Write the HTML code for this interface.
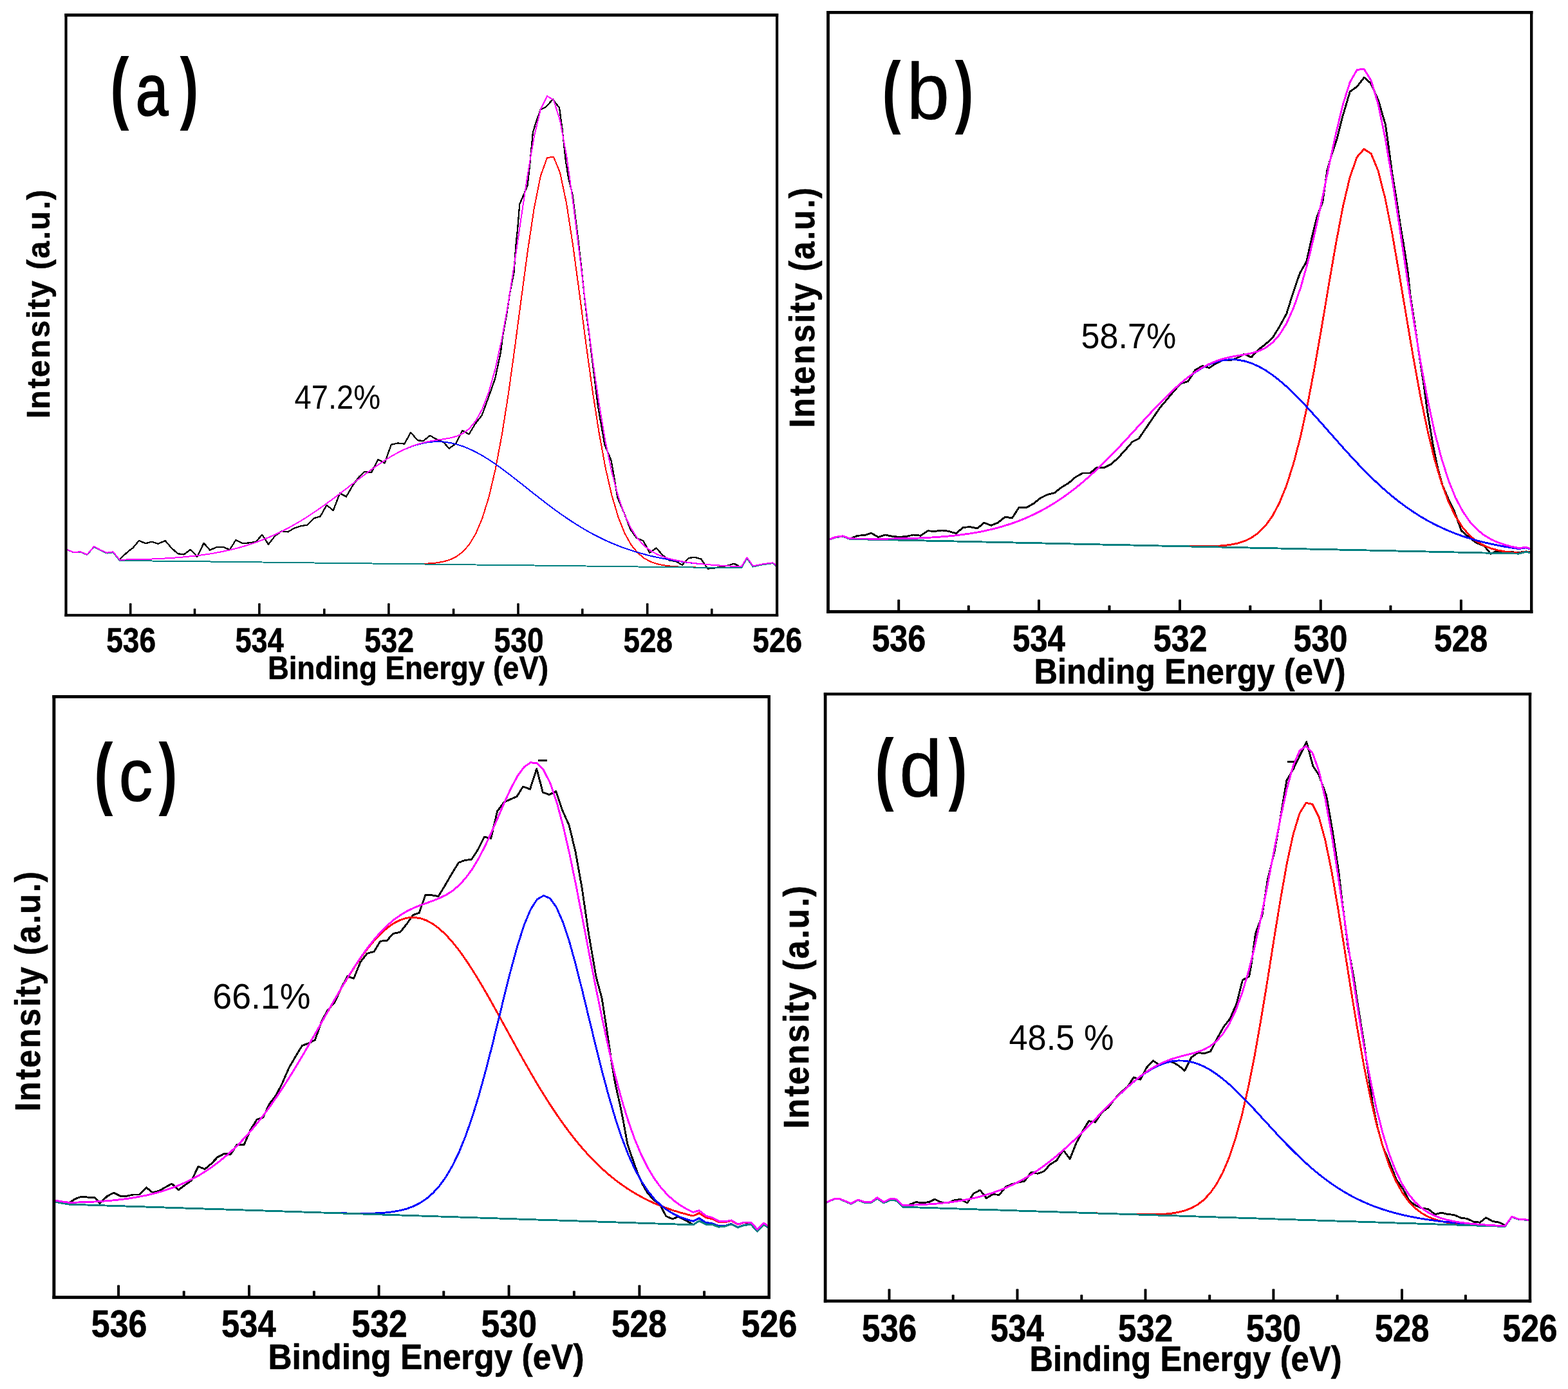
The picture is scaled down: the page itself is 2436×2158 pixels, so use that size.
<!DOCTYPE html>
<html lang="en">
<head>
<meta charset="utf-8">
<title>XPS O 1s spectra</title>
<style>
html,body{margin:0;padding:0;background:#fff;}
body{width:2436px;height:2158px;overflow:hidden;}
svg{display:block;}
svg text{font-family:'Liberation Sans', sans-serif;fill:#000;}
</style>
</head>
<body>
<svg xmlns="http://www.w3.org/2000/svg" width="2436" height="2158" viewBox="0 0 2436 2158">
<rect x="0" y="0" width="2436" height="2158" fill="#fff"/>
<clipPath id="clip_a"><rect x="104.6" y="25.8" width="1100.4" height="928.0"/></clipPath>
<g clip-path="url(#clip_a)">
<path d="M185.7,869.0 L199.8,856.1 L206.3,851.4 L215.9,839.9 L226.2,844.3 L235.6,841.7 L245.9,844.9 L256.5,839.9 L265.9,850.8 L276.1,860.2 L285.8,861.4 L296.1,853.7 L306.4,864.9 L316.6,843.7 L326.0,854.6 L337.2,849.9 L347.5,849.9 L356.8,854.3 L366.5,838.7 L376.5,844.3 L387.1,843.4 L397.1,842.0 L407.3,830.8 L417.0,845.8 L427.3,832.6 L437.6,825.2 L447.3,826.4 L456.7,820.8 L466.9,817.3 L477.2,815.6 L487.5,805.3 L497.7,802.3 L507.4,784.7 L517.7,793.0 L528.0,766.5 L538.0,771.5 L548.2,753.9 L557.9,740.7 L566.7,732.8 L577.0,734.0 L587.3,713.7 L597.6,719.6 L607.8,690.8 L618.1,688.5 L628.4,689.6 L638.1,671.7 L648.9,684.3 L657.7,684.9 L668.0,676.7 L678.3,682.6 L688.6,686.7 L697.8,696.7 L708.1,689.3 L718.4,668.8 L728.6,674.7 L738.3,658.5 L748.6,645.3 L758.9,617.4 L769.2,588.1 L778.0,547.0 L780.9,522.7 L786.8,490.4 L792.6,452.3 L798.5,422.9 L801.4,381.8 L804.4,352.4 L807.3,317.2 L816.1,296.7 L819.6,287.9 L823.5,252.6 L827.9,205.7 L832.3,191.0 L839.6,170.5 L848.4,166.0 L858.7,154.3 L869.0,167.5 L873.4,199.8 L879.2,252.6 L883.6,279.1 L889.5,302.5 L893.9,337.8 L898.3,373.0 L902.7,411.2 L907.1,452.3 L911.5,490.4 L915.9,522.7 L918.9,549.9 L929.1,632.1 L939.4,690.8 L949.7,715.8 L959.4,773.0 L969.4,796.5 L979.6,822.9 L989.3,836.1 L999.6,840.5 L1009.3,858.7 L1019.5,851.4 L1029.5,862.5 L1039.8,870.5 L1050.1,872.2 L1059.8,877.8 L1070.0,866.9 L1079.4,865.8 L1089.1,868.4 L1099.4,883.7 L1109.7,882.5 L1119.9,880.7 L1130.2,878.7 L1140.5,875.7 L1150.8,881.0" stroke="#000" stroke-width="2.3" fill="none" stroke-linejoin="round" stroke-linecap="butt" shape-rendering="crispEdges"/>
<path d="M103.5,854.0 L114.7,858.4 L125.0,857.6 L135.2,862.1 L146.1,849.6 L155.8,855.0 L166.0,859.6 L175.7,858.3 L185.7,870.9 L195.8,871.0 L205.8,871.1 L215.9,871.2 L226.0,871.3 L236.0,871.5 L246.1,871.6 L256.2,871.7 L266.2,871.8 L276.3,871.9 L286.3,872.1 L296.4,872.2 L306.5,872.3 L316.5,872.4 L326.6,872.5 L336.7,872.7 L346.7,872.8 L356.8,872.9 L366.9,873.0 L376.9,873.1 L387.0,873.3 L397.1,873.4 L407.1,873.5 L417.2,873.6 L427.2,873.7 L437.3,873.9 L447.4,874.0 L457.4,874.1 L467.5,874.2 L477.6,874.3 L487.6,874.5 L497.7,874.6 L507.8,874.7 L517.8,874.8 L527.9,874.9 L538.0,875.1 L548.0,875.2 L558.1,875.3 L568.2,875.4 L578.2,875.5 L588.3,875.7 L598.3,875.8 L608.4,875.9 L618.5,876.0 L628.5,876.0 L638.6,876.1 L648.7,876.0 L658.7,875.8 L668.8,875.3 L678.9,874.3 L688.9,872.6 L699.0,869.6 L709.1,864.8 L719.1,857.2 L729.2,845.7 L739.3,828.8 L749.3,805.1 L759.4,772.7 L769.4,730.3 L779.5,677.1 L789.6,613.6 L799.6,541.6 L809.7,465.1 L819.8,390.0 L829.8,323.5 L839.9,273.1 L850.0,245.2 L860.0,243.6 L870.1,268.5 L880.2,316.6 L890.2,381.8 L900.3,456.5 L910.3,533.4 L920.4,606.4 L930.5,671.4 L940.5,726.2 L950.6,770.2 L960.7,804.0 L970.7,829.0 L980.8,846.9 L990.9,859.2 L1000.9,867.4 L1011.0,872.8 L1021.1,876.2 L1031.1,878.3 L1041.2,879.6 L1051.3,880.4 L1061.3,880.9 L1071.4,881.2 L1081.4,881.5 L1091.5,881.6 L1101.6,881.8 L1111.6,881.9 L1121.7,882.0 L1131.8,882.2 L1141.8,882.3 L1151.9,882.4 L1160.5,867.7 L1169.8,880.6 L1183.1,877.7 L1200.7,875.1 L1208.0,881.4" stroke="#ff0000" stroke-width="2.0" fill="none" stroke-linejoin="round" stroke-linecap="butt" shape-rendering="crispEdges"/>
<path d="M103.5,853.7 L114.7,858.1 L125.0,857.2 L135.2,861.6 L146.1,849.0 L155.8,854.3 L166.0,858.7 L175.7,857.2 L185.7,869.6 L195.8,869.5 L205.8,869.3 L215.9,869.1 L226.0,868.8 L236.0,868.5 L246.1,868.0 L256.2,867.5 L266.2,866.9 L276.3,866.2 L286.3,865.3 L296.4,864.3 L306.5,863.2 L316.5,861.9 L326.6,860.4 L336.7,858.6 L346.7,856.7 L356.8,854.5 L366.9,852.0 L376.9,849.3 L387.0,846.2 L397.1,842.8 L407.1,839.1 L417.2,835.0 L427.2,830.6 L437.3,825.8 L447.4,820.6 L457.4,815.0 L467.5,809.1 L477.6,802.8 L487.6,796.2 L497.7,789.2 L507.8,782.0 L517.8,774.6 L527.9,767.0 L538.0,759.2 L548.0,751.5 L558.1,743.7 L568.2,736.1 L578.2,728.7 L588.3,721.6 L598.3,714.9 L608.4,708.7 L618.5,703.1 L628.5,698.2 L638.6,694.0 L648.7,690.7 L658.7,688.2 L668.8,686.7 L678.9,686.1 L688.9,686.5 L699.0,687.9 L709.1,690.2 L719.1,693.4 L729.2,697.5 L739.3,702.4 L749.3,707.9 L759.4,714.1 L769.4,720.9 L779.5,728.1 L789.6,735.6 L799.6,743.4 L809.7,751.3 L819.8,759.3 L829.8,767.3 L839.9,775.2 L850.0,783.0 L860.0,790.5 L870.1,797.8 L880.2,804.8 L890.2,811.5 L900.3,817.8 L910.3,823.8 L920.4,829.4 L930.5,834.6 L940.5,839.4 L950.6,843.9 L960.7,848.0 L970.7,851.8 L980.8,855.2 L990.9,858.3 L1000.9,861.1 L1011.0,863.7 L1021.1,866.0 L1031.1,868.0 L1041.2,869.9 L1051.3,871.5 L1061.3,873.0 L1071.4,874.3 L1081.4,875.4 L1091.5,876.4 L1101.6,877.3 L1111.6,878.1 L1121.7,878.8 L1131.8,879.4 L1141.8,880.0 L1151.9,880.5 L1160.5,866.0 L1169.8,879.3 L1183.1,876.6 L1200.7,874.3 L1208.0,880.7" stroke="#0000ff" stroke-width="2.0" fill="none" stroke-linejoin="round" stroke-linecap="butt" shape-rendering="crispEdges"/>
<path d="M103.5,854.0 L114.7,858.4 L125.0,857.6 L135.2,862.1 L146.1,849.6 L155.8,855.0 L166.0,859.6 L175.7,858.3 L185.7,870.9 L195.8,871.0 L205.8,871.1 L215.9,871.2 L226.0,871.3 L236.0,871.5 L246.1,871.6 L256.2,871.7 L266.2,871.8 L276.3,871.9 L286.3,872.1 L296.4,872.2 L306.5,872.3 L316.5,872.4 L326.6,872.5 L336.7,872.7 L346.7,872.8 L356.8,872.9 L366.9,873.0 L376.9,873.1 L387.0,873.3 L397.1,873.4 L407.1,873.5 L417.2,873.6 L427.2,873.7 L437.3,873.9 L447.4,874.0 L457.4,874.1 L467.5,874.2 L477.6,874.3 L487.6,874.5 L497.7,874.6 L507.8,874.7 L517.8,874.8 L527.9,874.9 L538.0,875.1 L548.0,875.2 L558.1,875.3 L568.2,875.4 L578.2,875.5 L588.3,875.7 L598.3,875.8 L608.4,875.9 L618.5,876.0 L628.5,876.1 L638.6,876.3 L648.7,876.4 L658.7,876.5 L668.8,876.6 L678.9,876.7 L688.9,876.9 L699.0,877.0 L709.1,877.1 L719.1,877.2 L729.2,877.3 L739.3,877.5 L749.3,877.6 L759.4,877.7 L769.4,877.8 L779.5,877.9 L789.6,878.1 L799.6,878.2 L809.7,878.3 L819.8,878.4 L829.8,878.5 L839.9,878.7 L850.0,878.8 L860.0,878.9 L870.1,879.0 L880.2,879.2 L890.2,879.3 L900.3,879.4 L910.3,879.5 L920.4,879.6 L930.5,879.8 L940.5,879.9 L950.6,880.0 L960.7,880.1 L970.7,880.2 L980.8,880.4 L990.9,880.5 L1000.9,880.6 L1011.0,880.7 L1021.1,880.8 L1031.1,881.0 L1041.2,881.1 L1051.3,881.2 L1061.3,881.3 L1071.4,881.4 L1081.4,881.6 L1091.5,881.7 L1101.6,881.8 L1111.6,881.9 L1121.7,882.0 L1131.8,882.2 L1141.8,882.3 L1151.9,882.4 L1160.5,867.7 L1169.8,880.6 L1183.1,877.7 L1200.7,875.1 L1208.0,881.4" stroke="#008080" stroke-width="2.0" fill="none" stroke-linejoin="round" stroke-linecap="butt" shape-rendering="crispEdges"/>
<path d="M103.5,853.7 L114.7,858.1 L125.0,857.2 L135.2,861.6 L146.1,849.0 L155.8,854.3 L166.0,858.7 L175.7,857.2 L185.7,869.6 L195.8,869.5 L205.8,869.3 L215.9,869.1 L226.0,868.8 L236.0,868.5 L246.1,868.0 L256.2,867.5 L266.2,866.9 L276.3,866.2 L286.3,865.3 L296.4,864.3 L306.5,863.2 L316.5,861.9 L326.6,860.4 L336.7,858.6 L346.7,856.7 L356.8,854.5 L366.9,852.0 L376.9,849.3 L387.0,846.2 L397.1,842.8 L407.1,839.1 L417.2,835.0 L427.2,830.6 L437.3,825.8 L447.4,820.6 L457.4,815.0 L467.5,809.1 L477.6,802.8 L487.6,796.2 L497.7,789.2 L507.8,782.0 L517.8,774.6 L527.9,767.0 L538.0,759.2 L548.0,751.5 L558.1,743.7 L568.2,736.1 L578.2,728.7 L588.3,721.6 L598.3,714.9 L608.4,708.7 L618.5,703.1 L628.5,698.1 L638.6,693.8 L648.7,690.3 L658.7,687.5 L668.8,685.3 L678.9,683.7 L688.9,682.2 L699.0,680.5 L709.1,677.8 L719.1,673.4 L729.2,665.8 L739.3,653.7 L749.3,635.4 L759.4,609.1 L769.4,573.3 L779.5,527.2 L789.6,471.1 L799.6,406.7 L809.7,338.1 L819.8,270.9 L829.8,212.2 L839.9,169.6 L850.0,149.3 L860.0,155.2 L870.1,187.3 L880.2,242.3 L890.2,314.0 L900.3,394.9 L910.3,477.6 L920.4,556.1 L930.5,626.2 L940.5,685.7 L950.6,734.0 L960.7,771.9 L970.7,800.5 L980.8,821.7 L990.9,837.0 L1000.9,848.0 L1011.0,855.8 L1021.1,861.3 L1031.1,865.4 L1041.2,868.4 L1051.3,870.7 L1061.3,872.6 L1071.4,874.1 L1081.4,875.3 L1091.5,876.4 L1101.6,877.3 L1111.6,878.1 L1121.7,878.8 L1131.8,879.4 L1141.8,880.0 L1151.9,880.5 L1160.5,866.0 L1169.8,879.3 L1183.1,876.6 L1200.7,874.3 L1208.0,880.7" stroke="#ff00ff" stroke-width="2.0" fill="none" stroke-linejoin="round" stroke-linecap="butt" shape-rendering="crispEdges"/>
</g>
<rect x="100.40" y="21.00" width="1108.80" height="4.80"/>
<rect x="100.40" y="953.80" width="1108.80" height="4.10"/>
<rect x="100.40" y="21.00" width="4.20" height="936.90"/>
<rect x="1205.00" y="21.00" width="4.20" height="936.90"/>
<rect x="200.90" y="937.30" width="3.60" height="17.50" rx="1"/>
<rect x="401.10" y="937.30" width="3.60" height="17.50" rx="1"/>
<rect x="602.10" y="937.30" width="3.60" height="17.50" rx="1"/>
<rect x="803.20" y="937.30" width="3.60" height="17.50" rx="1"/>
<rect x="1003.90" y="937.30" width="3.60" height="17.50" rx="1"/>
<rect x="300.70" y="945.60" width="3.60" height="9.20" rx="1"/>
<rect x="502.00" y="945.60" width="3.60" height="9.20" rx="1"/>
<rect x="702.80" y="945.60" width="3.60" height="9.20" rx="1"/>
<rect x="903.00" y="945.60" width="3.60" height="9.20" rx="1"/>
<rect x="1104.00" y="945.60" width="3.60" height="9.20" rx="1"/>
<text transform="translate(165.22,1012.87) scale(0.4613,0.5324)" font-size="100" font-weight="bold" stroke="#000" stroke-width="1.1" stroke-linejoin="round">536</text>
<text transform="translate(365.45,1012.87) scale(0.4514,0.5324)" font-size="100" font-weight="bold" stroke="#000" stroke-width="1.1" stroke-linejoin="round">534</text>
<text transform="translate(566.22,1012.87) scale(0.4612,0.5324)" font-size="100" font-weight="bold" stroke="#000" stroke-width="1.1" stroke-linejoin="round">532</text>
<text transform="translate(767.62,1012.87) scale(0.4612,0.5324)" font-size="100" font-weight="bold" stroke="#000" stroke-width="1.1" stroke-linejoin="round">530</text>
<text transform="translate(968.62,1012.87) scale(0.4584,0.5324)" font-size="100" font-weight="bold" stroke="#000" stroke-width="1.1" stroke-linejoin="round">528</text>
<text transform="translate(1169.32,1012.87) scale(0.4613,0.5324)" font-size="100" font-weight="bold" stroke="#000" stroke-width="1.1" stroke-linejoin="round">526</text>
<text transform="translate(415.92,1055.00) scale(0.4565,0.5075)" font-size="100" font-weight="bold" stroke="#000" stroke-width="1.1" stroke-linejoin="round" x="0.00 72.22 100.00 161.08 222.17 249.95 311.04 372.12 399.90 466.60 527.69 583.30 622.22 683.30 738.92 766.70 800.00 855.62 922.32" y="0">Binding Energy (eV)</text>
<text transform="translate(77.00,650.34) rotate(-90) scale(0.4796,0.5084)" font-size="100" font-weight="bold" stroke="#000" stroke-width="1.1" stroke-linejoin="round" x="0.00 30.53 97.66 134.25 195.37 262.49 323.61 354.14 390.73 451.85 482.38 518.98 580.09 610.62 677.75 708.28" y="0">Intensity (a.u.)</text>
<text stroke-linejoin="round"><tspan x="171.31" y="177.11" font-size="124.29" textLength="29.26" lengthAdjust="spacingAndGlyphs" font-weight="bold">(</tspan><tspan x="210.84" y="179.02" font-size="113.27" textLength="50.65" lengthAdjust="spacingAndGlyphs" stroke="#000" stroke-width="2.04">a</tspan><tspan x="279.58" y="177.11" font-size="124.29" textLength="28.90" lengthAdjust="spacingAndGlyphs" font-weight="bold">)</tspan></text>
<text transform="translate(457.52,634.74) scale(0.4717,0.5121)" font-size="100">47.2%</text>
<clipPath id="clip_b"><rect x="1288.9" y="21.7" width="1088.1" height="926.2"/></clipPath>
<g clip-path="url(#clip_b)">
<path d="M1321.1,836.9 L1332.3,832.2 L1343.1,831.6 L1353.4,828.1 L1364.5,834.5 L1375.4,831.0 L1386.3,833.3 L1397.4,834.5 L1408.3,833.3 L1419.4,831.0 L1430.3,832.2 L1441.4,824.8 L1452.3,825.4 L1463.5,824.0 L1474.3,825.4 L1485.5,828.9 L1496.3,819.3 L1507.5,818.7 L1518.4,821.0 L1528.9,812.2 L1539.8,816.3 L1550.1,812.2 L1561.2,803.4 L1572.7,804.6 L1583.2,788.1 L1595.6,788.1 L1605.8,782.3 L1616.7,773.5 L1627.8,768.2 L1638.1,765.8 L1649.3,757.0 L1660.1,750.6 L1671.3,740.9 L1682.2,735.0 L1693.3,735.0 L1704.2,726.2 L1715.0,726.8 L1726.2,721.2 L1737.0,711.5 L1748.2,699.2 L1759.1,686.6 L1769.3,681.3 L1780.5,664.9 L1791.4,649.0 L1802.5,632.9 L1813.4,620.2 L1824.5,606.7 L1834.8,595.6 L1845.7,592.6 L1856.8,575.0 L1868.1,568.4 L1878.6,571.5 L1888.8,564.8 L1900.6,558.9 L1912.3,559.8 L1922.6,555.9 L1932.9,550.1 L1944.0,555.1 L1954.9,543.3 L1965.2,535.4 L1976.9,525.1 L1988.6,506.0 L1998.9,487.0 L2007.7,458.8 L2019.5,424.2 L2029.7,406.6 L2038.5,366.9 L2045.9,337.6 L2054.7,314.1 L2062.0,264.2 L2067.9,243.6 L2076.7,217.2 L2085.5,182.0 L2097.3,142.4 L2108.4,134.4 L2119.3,120.4 L2129.5,129.2 L2141.3,155.6 L2152.4,193.7 L2157.4,229.0 L2163.3,273.0 L2169.2,308.2 L2175.0,346.4 L2180.9,381.6 L2186.8,419.8 L2191.2,460.5 L2197.1,498.7 L2204.4,548.6 L2211.7,595.6 L2217.6,639.6 L2226.4,692.4 L2233.7,727.7 L2241.1,754.1 L2249.9,774.6 L2258.7,792.3 L2270.4,824.5 L2282.2,834.8 L2293.9,843.6 L2305.7,848.0 L2315.9,860.4 L2324.7,856.2 L2340.9,857.4 L2358.5,858.3 L2379.1,856.8" stroke="#000" stroke-width="2.9" fill="none" stroke-linejoin="round" stroke-linecap="butt" shape-rendering="crispEdges"/>
<path d="M1287.7,838.3 L1298.6,834.7 L1309.6,833.3 L1320.5,837.5 L1331.4,837.7 L1342.4,837.9 L1353.3,838.2 L1364.3,838.4 L1375.2,838.6 L1386.1,838.9 L1397.1,839.1 L1408.0,839.4 L1419.0,839.6 L1429.9,839.8 L1440.8,840.1 L1451.8,840.3 L1462.7,840.6 L1473.7,840.8 L1484.6,841.0 L1495.5,841.3 L1506.5,841.5 L1517.4,841.8 L1528.4,842.0 L1539.3,842.2 L1550.2,842.5 L1561.2,842.7 L1572.1,842.9 L1583.1,843.2 L1594.0,843.4 L1604.9,843.7 L1615.9,843.9 L1626.8,844.1 L1637.8,844.4 L1648.7,844.6 L1659.6,844.9 L1670.6,845.1 L1681.5,845.3 L1692.5,845.6 L1703.4,845.8 L1714.3,846.1 L1725.3,846.3 L1736.2,846.5 L1747.2,846.8 L1758.1,847.0 L1769.0,847.2 L1780.0,847.5 L1790.9,847.7 L1801.9,848.0 L1812.8,848.2 L1823.7,848.4 L1834.7,848.6 L1845.6,848.8 L1856.6,848.9 L1867.5,848.9 L1878.4,848.8 L1889.4,848.4 L1900.3,847.7 L1911.3,846.4 L1922.2,844.2 L1933.1,840.8 L1944.1,835.5 L1955.0,827.9 L1966.0,816.9 L1976.9,801.6 L1987.8,781.0 L1998.8,754.0 L2009.7,719.6 L2020.7,677.4 L2031.6,627.2 L2042.5,569.9 L2053.5,507.3 L2064.4,442.2 L2075.4,378.7 L2086.3,321.3 L2097.2,275.0 L2108.2,244.0 L2119.1,231.5 L2130.1,238.8 L2141.0,265.1 L2151.9,307.9 L2162.9,363.0 L2173.8,425.7 L2184.8,491.3 L2195.7,555.4 L2206.6,615.0 L2217.6,667.8 L2228.5,712.9 L2239.5,750.0 L2250.4,779.5 L2261.3,802.3 L2272.3,819.5 L2283.2,832.1 L2294.2,841.2 L2305.1,847.5 L2316.0,851.9 L2327.0,854.9 L2337.9,856.9 L2348.9,858.2 L2359.8,859.2 L2370.8,856.7 L2381.7,859.3" stroke="#ff0000" stroke-width="2.9" fill="none" stroke-linejoin="round" stroke-linecap="butt" shape-rendering="crispEdges"/>
<path d="M1287.7,838.0 L1298.6,834.3 L1309.6,832.8 L1320.5,836.9 L1331.4,837.0 L1342.4,837.0 L1353.3,837.1 L1364.3,837.1 L1375.2,837.1 L1386.1,837.0 L1397.1,836.8 L1408.0,836.6 L1419.0,836.3 L1429.9,835.9 L1440.8,835.4 L1451.8,834.7 L1462.7,833.9 L1473.7,833.0 L1484.6,831.9 L1495.5,830.5 L1506.5,829.0 L1517.4,827.2 L1528.4,825.1 L1539.3,822.6 L1550.2,819.9 L1561.2,816.7 L1572.1,813.2 L1583.1,809.2 L1594.0,804.8 L1604.9,799.8 L1615.9,794.4 L1626.8,788.4 L1637.8,781.8 L1648.7,774.6 L1659.6,766.9 L1670.6,758.5 L1681.5,749.6 L1692.5,740.1 L1703.4,730.0 L1714.3,719.5 L1725.3,708.5 L1736.2,697.2 L1747.2,685.5 L1758.1,673.6 L1769.0,661.7 L1780.0,649.7 L1790.9,637.9 L1801.9,626.4 L1812.8,615.4 L1823.7,604.9 L1834.7,595.2 L1845.6,586.3 L1856.6,578.5 L1867.5,571.8 L1878.4,566.4 L1889.4,562.4 L1900.3,559.8 L1911.3,558.6 L1922.2,559.0 L1933.1,560.9 L1944.1,564.3 L1955.0,569.1 L1966.0,575.2 L1976.9,582.6 L1987.8,591.1 L1998.8,600.6 L2009.7,611.0 L2020.7,622.1 L2031.6,633.7 L2042.5,645.8 L2053.5,658.1 L2064.4,670.5 L2075.4,682.9 L2086.3,695.3 L2097.2,707.3 L2108.2,719.1 L2119.1,730.5 L2130.1,741.4 L2141.0,751.8 L2151.9,761.7 L2162.9,771.0 L2173.8,779.7 L2184.8,787.8 L2195.7,795.3 L2206.6,802.3 L2217.6,808.7 L2228.5,814.5 L2239.5,819.8 L2250.4,824.7 L2261.3,829.0 L2272.3,833.0 L2283.2,836.5 L2294.2,839.7 L2305.1,842.5 L2316.0,845.0 L2327.0,847.3 L2337.9,849.3 L2348.9,851.0 L2359.8,852.6 L2370.8,850.9 L2381.7,854.2" stroke="#0000ff" stroke-width="2.9" fill="none" stroke-linejoin="round" stroke-linecap="butt" shape-rendering="crispEdges"/>
<path d="M1287.7,838.3 L1298.6,834.7 L1309.6,833.3 L1320.5,837.5 L1331.4,837.7 L1342.4,837.9 L1353.3,838.2 L1364.3,838.4 L1375.2,838.6 L1386.1,838.9 L1397.1,839.1 L1408.0,839.4 L1419.0,839.6 L1429.9,839.8 L1440.8,840.1 L1451.8,840.3 L1462.7,840.6 L1473.7,840.8 L1484.6,841.0 L1495.5,841.3 L1506.5,841.5 L1517.4,841.8 L1528.4,842.0 L1539.3,842.2 L1550.2,842.5 L1561.2,842.7 L1572.1,842.9 L1583.1,843.2 L1594.0,843.4 L1604.9,843.7 L1615.9,843.9 L1626.8,844.1 L1637.8,844.4 L1648.7,844.6 L1659.6,844.9 L1670.6,845.1 L1681.5,845.3 L1692.5,845.6 L1703.4,845.8 L1714.3,846.1 L1725.3,846.3 L1736.2,846.5 L1747.2,846.8 L1758.1,847.0 L1769.0,847.2 L1780.0,847.5 L1790.9,847.7 L1801.9,848.0 L1812.8,848.2 L1823.7,848.4 L1834.7,848.7 L1845.6,848.9 L1856.6,849.2 L1867.5,849.4 L1878.4,849.6 L1889.4,849.9 L1900.3,850.1 L1911.3,850.4 L1922.2,850.6 L1933.1,850.8 L1944.1,851.1 L1955.0,851.3 L1966.0,851.5 L1976.9,851.8 L1987.8,852.0 L1998.8,852.3 L2009.7,852.5 L2020.7,852.7 L2031.6,853.0 L2042.5,853.2 L2053.5,853.5 L2064.4,853.7 L2075.4,853.9 L2086.3,854.2 L2097.2,854.4 L2108.2,854.7 L2119.1,854.9 L2130.1,855.1 L2141.0,855.4 L2151.9,855.6 L2162.9,855.8 L2173.8,856.1 L2184.8,856.3 L2195.7,856.6 L2206.6,856.8 L2217.6,857.0 L2228.5,857.3 L2239.5,857.5 L2250.4,857.8 L2261.3,858.0 L2272.3,858.2 L2283.2,858.5 L2294.2,858.7 L2305.1,859.0 L2316.0,859.2 L2327.0,859.4 L2337.9,859.7 L2348.9,859.9 L2359.8,860.1 L2370.8,857.3 L2381.7,859.6" stroke="#008080" stroke-width="2.9" fill="none" stroke-linejoin="round" stroke-linecap="butt" shape-rendering="crispEdges"/>
<path d="M1287.7,838.0 L1298.6,834.3 L1309.6,832.8 L1320.5,836.9 L1331.4,837.0 L1342.4,837.0 L1353.3,837.1 L1364.3,837.1 L1375.2,837.1 L1386.1,837.0 L1397.1,836.8 L1408.0,836.6 L1419.0,836.3 L1429.9,835.9 L1440.8,835.4 L1451.8,834.7 L1462.7,833.9 L1473.7,833.0 L1484.6,831.9 L1495.5,830.5 L1506.5,829.0 L1517.4,827.2 L1528.4,825.1 L1539.3,822.6 L1550.2,819.9 L1561.2,816.7 L1572.1,813.2 L1583.1,809.2 L1594.0,804.8 L1604.9,799.8 L1615.9,794.4 L1626.8,788.4 L1637.8,781.8 L1648.7,774.6 L1659.6,766.9 L1670.6,758.5 L1681.5,749.6 L1692.5,740.1 L1703.4,730.0 L1714.3,719.5 L1725.3,708.5 L1736.2,697.2 L1747.2,685.5 L1758.1,673.6 L1769.0,661.7 L1780.0,649.7 L1790.9,637.9 L1801.9,626.4 L1812.8,615.4 L1823.7,604.9 L1834.7,595.1 L1845.6,586.2 L1856.6,578.2 L1867.5,571.3 L1878.4,565.6 L1889.4,560.9 L1900.3,557.4 L1911.3,554.7 L1922.2,552.7 L1933.1,550.9 L1944.1,548.8 L1955.0,545.6 L1966.0,540.5 L1976.9,532.4 L1987.8,520.1 L1998.8,502.3 L2009.7,478.1 L2020.7,446.7 L2031.6,408.0 L2042.5,362.5 L2053.5,311.9 L2064.4,259.1 L2075.4,207.7 L2086.3,162.4 L2097.2,127.9 L2108.2,108.5 L2119.1,107.1 L2130.1,125.1 L2141.0,161.6 L2151.9,214.0 L2162.9,278.1 L2173.8,349.3 L2184.8,422.8 L2195.7,494.2 L2206.6,560.5 L2217.6,619.5 L2228.5,670.1 L2239.5,712.3 L2250.4,746.4 L2261.3,773.4 L2272.3,794.2 L2283.2,810.2 L2294.2,822.1 L2305.1,831.1 L2316.0,837.7 L2327.0,842.7 L2337.9,846.5 L2348.9,849.4 L2359.8,851.6 L2370.8,850.3 L2381.7,853.9" stroke="#ff00ff" stroke-width="2.9" fill="none" stroke-linejoin="round" stroke-linecap="butt" shape-rendering="crispEdges"/>
</g>
<rect x="1284.10" y="17.00" width="1097.30" height="4.70"/>
<rect x="1284.10" y="947.90" width="1097.30" height="4.90"/>
<rect x="1284.10" y="17.00" width="4.80" height="935.80"/>
<rect x="2377.00" y="17.00" width="4.40" height="935.80"/>
<rect x="1394.20" y="931.40" width="4.00" height="17.50" rx="1"/>
<rect x="1612.00" y="931.40" width="4.00" height="17.50" rx="1"/>
<rect x="1831.00" y="931.40" width="4.00" height="17.50" rx="1"/>
<rect x="2049.80" y="931.40" width="4.00" height="17.50" rx="1"/>
<rect x="2267.90" y="931.40" width="4.00" height="17.50" rx="1"/>
<rect x="1502.80" y="940.50" width="4.00" height="8.40" rx="1"/>
<rect x="1721.50" y="940.50" width="4.00" height="8.40" rx="1"/>
<rect x="1940.30" y="940.50" width="4.00" height="8.40" rx="1"/>
<rect x="2158.40" y="940.50" width="4.00" height="8.40" rx="1"/>
<text transform="translate(1354.39,1011.62) scale(0.5025,0.5817)" font-size="100" font-weight="bold" stroke="#000" stroke-width="1.1" stroke-linejoin="round">536</text>
<text transform="translate(1572.92,1011.62) scale(0.4917,0.5817)" font-size="100" font-weight="bold" stroke="#000" stroke-width="1.1" stroke-linejoin="round">534</text>
<text transform="translate(1791.69,1011.62) scale(0.5025,0.5817)" font-size="100" font-weight="bold" stroke="#000" stroke-width="1.1" stroke-linejoin="round">532</text>
<text transform="translate(2009.59,1011.62) scale(0.5025,0.5817)" font-size="100" font-weight="bold" stroke="#000" stroke-width="1.1" stroke-linejoin="round">530</text>
<text transform="translate(2228.00,1011.62) scale(0.4994,0.5817)" font-size="100" font-weight="bold" stroke="#000" stroke-width="1.1" stroke-linejoin="round">528</text>
<text transform="translate(1606.48,1061.90) scale(0.5065,0.5490)" font-size="100" font-weight="bold" stroke="#000" stroke-width="1.1" stroke-linejoin="round" x="0.00 72.22 100.00 161.08 222.17 249.95 311.04 372.12 399.90 466.60 527.69 583.30 622.22 683.30 738.92 766.70 800.00 855.62 922.32" y="0">Binding Energy (eV)</text>
<text transform="translate(1264.90,664.40) rotate(-90) scale(0.5030,0.5472)" font-size="100" font-weight="bold" stroke="#000" stroke-width="1.1" stroke-linejoin="round" x="0.00 30.53 97.66 134.25 195.37 262.49 323.61 354.14 390.73 451.85 482.38 518.98 580.09 610.62 677.75 708.28" y="0">Intensity (a.u.)</text>
<text stroke-linejoin="round"><tspan x="1370.54" y="182.99" font-size="124.40" textLength="29.02" lengthAdjust="spacingAndGlyphs" font-weight="bold">(</tspan><tspan x="1408.41" y="185.25" font-size="124.19" textLength="66.62" lengthAdjust="spacingAndGlyphs" stroke="#000" stroke-width="0.50">b</tspan><tspan x="1483.58" y="182.99" font-size="124.40" textLength="29.02" lengthAdjust="spacingAndGlyphs" font-weight="bold">)</tspan></text>
<text transform="translate(1679.52,541.35) scale(0.5210,0.5549)" font-size="100">58.7%</text>
<clipPath id="clip_c"><rect x="86.3" y="1084.8" width="1106.2" height="928.3"/></clipPath>
<g clip-path="url(#clip_c)">
<path d="M107.0,1868.9 L117.2,1862.5 L126.0,1859.3 L136.3,1860.1 L146.6,1860.1 L155.4,1869.5 L166.3,1858.7 L176.5,1853.1 L186.8,1858.1 L196.5,1858.4 L206.8,1856.0 L217.0,1856.0 L227.3,1844.9 L237.0,1852.8 L247.0,1850.2 L257.3,1844.3 L266.9,1839.0 L277.2,1848.7 L287.5,1841.1 L297.8,1833.7 L308.0,1812.3 L318.3,1816.4 L328.0,1808.2 L338.3,1797.6 L348.6,1792.3 L358.5,1793.5 L368.2,1778.2 L379.1,1778.5 L388.8,1755.9 L399.0,1739.5 L408.7,1736.0 L418.7,1714.8 L429.0,1701.6 L438.7,1682.5 L448.9,1659.1 L459.2,1641.4 L469.5,1624.4 L479.8,1620.9 L489.5,1615.6 L499.4,1587.1 L509.1,1569.5 L520.0,1557.2 L529.7,1535.8 L539.9,1516.7 L549.6,1520.2 L559.9,1494.7 L570.2,1481.5 L581.3,1478.3 L590.8,1462.2 L601.1,1461.5 L610.6,1450.5 L621.6,1448.3 L631.2,1436.5 L641.5,1421.8 L651.2,1418.1 L661.1,1390.2 L670.8,1390.8 L681.1,1392.6 L691.4,1375.6 L701.6,1357.9 L712.5,1340.3 L722.2,1336.5 L732.5,1335.3 L742.7,1319.8 L752.4,1300.1 L762.7,1302.5 L772.7,1260.2 L783.0,1246.4 L792.6,1242.0 L802.9,1237.6 L812.6,1222.0 L823.5,1226.1 L833.7,1194.4 L843.4,1231.1 L853.4,1234.7 L863.7,1229.4 L874.0,1259.6 L884.2,1282.2 L894.2,1324.2 L904.2,1380.0 L914.5,1450.4 L926.2,1518.2 L935.0,1550.5 L942.3,1597.4 L949.7,1647.3 L955.6,1682.5 L962.9,1714.8 L968.8,1744.2 L974.6,1776.5 L982.0,1798.5 L990.8,1823.4 L998.1,1839.6 L1005.5,1852.8 L1015.7,1864.5 L1024.5,1870.4 L1034.8,1889.5 L1045.1,1893.9 L1053.9,1890.1 L1064.2,1895.4 L1075.9,1902.1" stroke="#000" stroke-width="2.9" fill="none" stroke-linejoin="round" stroke-linecap="butt" shape-rendering="crispEdges"/>
<path d="M836.0,1181.8 L850.0,1181.8" stroke="#000" stroke-width="2.9" fill="none" stroke-linejoin="round" stroke-linecap="butt" shape-rendering="crispEdges"/>
<path d="M85.8,1865.1 L96.7,1866.9 L107.0,1868.3 L117.1,1868.1 L127.2,1867.8 L137.3,1867.4 L147.4,1867.0 L157.5,1866.4 L167.6,1865.6 L177.7,1864.7 L187.8,1863.6 L197.9,1862.3 L208.0,1860.7 L218.1,1858.9 L228.2,1856.9 L238.3,1854.5 L248.4,1851.7 L258.5,1848.6 L268.6,1845.1 L278.8,1841.1 L288.9,1836.6 L299.0,1831.6 L309.1,1826.1 L319.2,1819.9 L329.3,1813.1 L339.4,1805.5 L349.5,1797.3 L359.6,1788.4 L369.7,1778.6 L379.8,1768.1 L389.9,1756.7 L400.0,1744.6 L410.1,1731.6 L420.2,1717.9 L430.3,1703.4 L440.4,1688.2 L450.5,1672.3 L460.6,1655.8 L470.7,1638.8 L480.8,1621.4 L490.9,1603.8 L501.0,1586.0 L511.1,1568.3 L521.2,1550.8 L531.3,1533.6 L541.4,1517.1 L551.5,1501.3 L561.6,1486.5 L571.7,1472.9 L581.8,1460.7 L592.0,1450.1 L602.1,1441.2 L612.2,1434.1 L622.3,1429.1 L632.4,1426.1 L642.5,1425.3 L652.6,1426.6 L662.7,1430.1 L672.8,1435.6 L682.9,1443.2 L693.0,1452.6 L703.1,1463.8 L713.2,1476.5 L723.3,1490.7 L733.4,1506.0 L743.5,1522.4 L753.6,1539.5 L763.7,1557.3 L773.8,1575.5 L783.9,1593.9 L794.0,1612.3 L804.1,1630.6 L814.2,1648.7 L824.3,1666.4 L834.4,1683.6 L844.5,1700.2 L854.6,1716.1 L864.7,1731.3 L874.8,1745.8 L884.9,1759.5 L895.0,1772.4 L905.1,1784.4 L915.2,1795.7 L925.4,1806.1 L935.5,1815.8 L945.6,1824.8 L955.7,1833.0 L965.8,1840.5 L975.9,1847.4 L986.0,1853.7 L996.1,1859.4 L1006.2,1864.6 L1016.3,1869.3 L1026.4,1873.5 L1036.5,1877.3 L1046.6,1880.8 L1056.7,1883.8 L1066.8,1886.6 L1076.9,1889.1 L1086.2,1884.7 L1096.5,1891.7 L1106.7,1893.8 L1117.0,1898.6 L1127.3,1898.6 L1136.1,1896.5 L1146.4,1902.3 L1156.6,1899.2 L1166.9,1899.3 L1176.6,1910.1 L1186.6,1900.2 L1196.3,1907.1" stroke="#ff0000" stroke-width="2.9" fill="none" stroke-linejoin="round" stroke-linecap="butt" shape-rendering="crispEdges"/>
<path d="M85.8,1867.1 L96.7,1869.3 L107.0,1871.1 L117.1,1871.4 L127.2,1871.8 L137.3,1872.1 L147.4,1872.4 L157.5,1872.8 L167.6,1873.1 L177.7,1873.4 L187.8,1873.7 L197.9,1874.1 L208.0,1874.4 L218.1,1874.7 L228.2,1875.1 L238.3,1875.4 L248.4,1875.7 L258.5,1876.1 L268.6,1876.4 L278.8,1876.7 L288.9,1877.1 L299.0,1877.4 L309.1,1877.7 L319.2,1878.1 L329.3,1878.4 L339.4,1878.7 L349.5,1879.0 L359.6,1879.4 L369.7,1879.7 L379.8,1880.0 L389.9,1880.4 L400.0,1880.7 L410.1,1881.0 L420.2,1881.4 L430.3,1881.7 L440.4,1882.0 L450.5,1882.4 L460.6,1882.7 L470.7,1883.0 L480.8,1883.3 L490.9,1883.7 L501.0,1884.0 L511.1,1884.3 L521.2,1884.6 L531.3,1884.8 L541.4,1885.0 L551.5,1885.2 L561.6,1885.2 L571.7,1885.2 L581.8,1885.0 L592.0,1884.5 L602.1,1883.7 L612.2,1882.4 L622.3,1880.5 L632.4,1877.8 L642.5,1874.0 L652.6,1868.9 L662.7,1862.2 L672.8,1853.4 L682.9,1842.2 L693.0,1828.2 L703.1,1810.8 L713.2,1789.9 L723.3,1765.1 L733.4,1736.2 L743.5,1703.5 L753.6,1667.1 L763.7,1628.0 L773.8,1587.0 L783.9,1545.6 L794.0,1505.6 L804.1,1468.8 L814.2,1437.3 L824.3,1413.0 L834.4,1397.3 L844.5,1391.5 L854.6,1395.8 L864.7,1410.1 L874.8,1433.4 L884.9,1464.1 L895.0,1500.6 L905.1,1540.8 L915.2,1582.7 L925.4,1624.5 L935.5,1664.9 L945.6,1702.5 L955.7,1736.7 L965.8,1767.1 L975.9,1793.5 L986.0,1815.9 L996.1,1834.6 L1006.2,1850.0 L1016.3,1862.4 L1026.4,1872.4 L1036.5,1880.2 L1046.6,1886.2 L1056.7,1890.9 L1066.8,1894.5 L1076.9,1897.2 L1086.2,1892.7 L1096.5,1899.3 L1106.7,1900.8 L1117.0,1905.0 L1127.3,1904.2 L1136.1,1901.5 L1146.4,1906.7 L1156.6,1903.0 L1166.9,1902.6 L1176.6,1912.9 L1186.6,1902.6 L1196.3,1909.1" stroke="#0000ff" stroke-width="2.9" fill="none" stroke-linejoin="round" stroke-linecap="butt" shape-rendering="crispEdges"/>
<path d="M85.8,1867.1 L96.7,1869.3 L107.0,1871.1 L117.1,1871.4 L127.2,1871.8 L137.3,1872.1 L147.4,1872.4 L157.5,1872.8 L167.6,1873.1 L177.7,1873.4 L187.8,1873.8 L197.9,1874.1 L208.0,1874.4 L218.1,1874.7 L228.2,1875.1 L238.3,1875.4 L248.4,1875.7 L258.5,1876.1 L268.6,1876.4 L278.8,1876.7 L288.9,1877.1 L299.0,1877.4 L309.1,1877.7 L319.2,1878.1 L329.3,1878.4 L339.4,1878.7 L349.5,1879.0 L359.6,1879.4 L369.7,1879.7 L379.8,1880.0 L389.9,1880.4 L400.0,1880.7 L410.1,1881.0 L420.2,1881.4 L430.3,1881.7 L440.4,1882.0 L450.5,1882.4 L460.6,1882.7 L470.7,1883.0 L480.8,1883.4 L490.9,1883.7 L501.0,1884.0 L511.1,1884.3 L521.2,1884.7 L531.3,1885.0 L541.4,1885.3 L551.5,1885.7 L561.6,1886.0 L571.7,1886.3 L581.8,1886.7 L592.0,1887.0 L602.1,1887.3 L612.2,1887.7 L622.3,1888.0 L632.4,1888.3 L642.5,1888.7 L652.6,1889.0 L662.7,1889.3 L672.8,1889.7 L682.9,1890.0 L693.0,1890.3 L703.1,1890.6 L713.2,1891.0 L723.3,1891.3 L733.4,1891.6 L743.5,1892.0 L753.6,1892.3 L763.7,1892.6 L773.8,1893.0 L783.9,1893.3 L794.0,1893.6 L804.1,1894.0 L814.2,1894.3 L824.3,1894.6 L834.4,1895.0 L844.5,1895.3 L854.6,1895.6 L864.7,1895.9 L874.8,1896.3 L884.9,1896.6 L895.0,1896.9 L905.1,1897.3 L915.2,1897.6 L925.4,1897.9 L935.5,1898.3 L945.6,1898.6 L955.7,1898.9 L965.8,1899.3 L975.9,1899.6 L986.0,1899.9 L996.1,1900.2 L1006.2,1900.6 L1016.3,1900.9 L1026.4,1901.2 L1036.5,1901.6 L1046.6,1901.9 L1056.7,1902.2 L1066.8,1902.6 L1076.9,1902.9 L1086.2,1896.8 L1096.5,1902.1 L1106.7,1902.7 L1117.0,1906.2 L1127.3,1905.0 L1136.1,1902.1 L1146.4,1907.1 L1156.6,1903.3 L1166.9,1902.7 L1176.6,1913.0 L1186.6,1902.7 L1196.3,1909.2" stroke="#008080" stroke-width="2.9" fill="none" stroke-linejoin="round" stroke-linecap="butt" shape-rendering="crispEdges"/>
<path d="M85.8,1865.1 L96.7,1866.9 L107.0,1868.3 L117.1,1868.1 L127.2,1867.8 L137.3,1867.4 L147.4,1867.0 L157.5,1866.4 L167.6,1865.6 L177.7,1864.7 L187.8,1863.6 L197.9,1862.3 L208.0,1860.7 L218.1,1858.9 L228.2,1856.9 L238.3,1854.5 L248.4,1851.7 L258.5,1848.6 L268.6,1845.1 L278.8,1841.1 L288.9,1836.6 L299.0,1831.6 L309.1,1826.1 L319.2,1819.9 L329.3,1813.1 L339.4,1805.5 L349.5,1797.3 L359.6,1788.4 L369.7,1778.6 L379.8,1768.1 L389.9,1756.7 L400.0,1744.6 L410.1,1731.6 L420.2,1717.9 L430.3,1703.4 L440.4,1688.2 L450.5,1672.3 L460.6,1655.8 L470.7,1638.8 L480.8,1621.4 L490.9,1603.8 L501.0,1586.0 L511.1,1568.2 L521.2,1550.6 L531.3,1533.4 L541.4,1516.7 L551.5,1500.8 L561.6,1485.7 L571.7,1471.8 L581.8,1459.0 L592.0,1447.5 L602.1,1437.5 L612.2,1428.8 L622.3,1421.6 L632.4,1415.6 L642.5,1410.7 L652.6,1406.6 L662.7,1403.0 L672.8,1399.4 L682.9,1395.4 L693.0,1390.4 L703.1,1384.0 L713.2,1375.4 L723.3,1364.4 L733.4,1350.6 L743.5,1333.9 L753.6,1314.4 L763.7,1292.7 L773.8,1269.5 L783.9,1246.2 L794.0,1224.3 L804.1,1205.5 L814.2,1191.7 L824.3,1184.7 L834.4,1185.9 L844.5,1196.4 L854.6,1216.3 L864.7,1245.5 L874.8,1282.9 L884.9,1327.0 L895.0,1376.0 L905.1,1427.9 L915.2,1480.8 L925.4,1532.8 L935.5,1582.4 L945.6,1628.7 L955.7,1670.8 L965.8,1708.4 L975.9,1741.3 L986.0,1769.7 L996.1,1793.8 L1006.2,1814.0 L1016.3,1830.8 L1026.4,1844.6 L1036.5,1855.9 L1046.6,1865.1 L1056.7,1872.5 L1066.8,1878.5 L1076.9,1883.4 L1086.2,1880.6 L1096.5,1888.9 L1106.7,1891.9 L1117.0,1897.3 L1127.3,1897.7 L1136.1,1895.9 L1146.4,1901.9 L1156.6,1899.0 L1166.9,1899.1 L1176.6,1910.0 L1186.6,1900.2 L1196.3,1907.0" stroke="#ff00ff" stroke-width="2.9" fill="none" stroke-linejoin="round" stroke-linecap="butt" shape-rendering="crispEdges"/>
</g>
<rect x="81.40" y="1080.00" width="1115.60" height="4.80"/>
<rect x="81.40" y="2013.10" width="1115.60" height="5.00"/>
<rect x="81.40" y="1080.00" width="4.90" height="938.10"/>
<rect x="1192.50" y="1080.00" width="4.50" height="938.10"/>
<rect x="182.10" y="1996.40" width="4.00" height="17.70" rx="1"/>
<rect x="385.00" y="1996.40" width="4.00" height="17.70" rx="1"/>
<rect x="586.60" y="1996.40" width="4.00" height="17.70" rx="1"/>
<rect x="788.60" y="1996.40" width="4.00" height="17.70" rx="1"/>
<rect x="991.40" y="1996.40" width="4.00" height="17.70" rx="1"/>
<rect x="283.70" y="2005.50" width="4.00" height="8.60" rx="1"/>
<rect x="485.90" y="2005.50" width="4.00" height="8.60" rx="1"/>
<rect x="687.30" y="2005.50" width="4.00" height="8.60" rx="1"/>
<rect x="889.90" y="2005.50" width="4.00" height="8.60" rx="1"/>
<rect x="1092.10" y="2005.50" width="4.00" height="8.60" rx="1"/>
<text transform="translate(141.84,2077.01) scale(0.5188,0.5915)" font-size="100" font-weight="bold" stroke="#000" stroke-width="1.1" stroke-linejoin="round">536</text>
<text transform="translate(344.08,2077.01) scale(0.5076,0.5915)" font-size="100" font-weight="bold" stroke="#000" stroke-width="1.1" stroke-linejoin="round">534</text>
<text transform="translate(546.34,2077.01) scale(0.5188,0.5915)" font-size="100" font-weight="bold" stroke="#000" stroke-width="1.1" stroke-linejoin="round">532</text>
<text transform="translate(747.44,2077.01) scale(0.5188,0.5915)" font-size="100" font-weight="bold" stroke="#000" stroke-width="1.1" stroke-linejoin="round">530</text>
<text transform="translate(949.95,2077.01) scale(0.5155,0.5915)" font-size="100" font-weight="bold" stroke="#000" stroke-width="1.1" stroke-linejoin="round">528</text>
<text transform="translate(1151.74,2077.01) scale(0.5188,0.5915)" font-size="100" font-weight="bold" stroke="#000" stroke-width="1.1" stroke-linejoin="round">526</text>
<text transform="translate(416.43,2126.90) scale(0.5141,0.5490)" font-size="100" font-weight="bold" stroke="#000" stroke-width="1.1" stroke-linejoin="round" x="0.00 72.22 100.00 161.08 222.17 249.95 311.04 372.12 399.90 466.60 527.69 583.30 622.22 683.30 738.92 766.70 800.00 855.62 922.32" y="0">Binding Energy (eV)</text>
<text transform="translate(61.90,1726.49) rotate(-90) scale(0.5022,0.5472)" font-size="100" font-weight="bold" stroke="#000" stroke-width="1.1" stroke-linejoin="round" x="0.00 30.53 97.66 134.25 195.37 262.49 323.61 354.14 390.73 451.85 482.38 518.98 580.09 610.62 677.75 708.28" y="0">Intensity (a.u.)</text>
<text stroke-linejoin="round"><tspan x="146.31" y="1242.11" font-size="124.29" textLength="29.26" lengthAdjust="spacingAndGlyphs" font-weight="bold">(</tspan><tspan x="184.87" y="1244.29" font-size="114.29" textLength="52.43" lengthAdjust="spacingAndGlyphs" stroke="#000" stroke-width="1.37">c</tspan><tspan x="246.58" y="1242.11" font-size="124.29" textLength="29.02" lengthAdjust="spacingAndGlyphs" font-weight="bold">)</tspan></text>
<text transform="translate(330.32,1566.64) scale(0.5367,0.5577)" font-size="100">66.1%</text>
<clipPath id="clip_d"><rect x="1284.5" y="1080.5" width="1090.3" height="938.5"/></clipPath>
<g clip-path="url(#clip_d)">
<path d="M1403.0,1872.5 L1412.6,1871.9 L1422.9,1867.5 L1433.2,1868.9 L1443.5,1867.5 L1452.3,1863.1 L1462.5,1868.1 L1472.8,1868.9 L1483.1,1864.5 L1492.8,1863.4 L1502.8,1868.9 L1512.4,1854.3 L1522.7,1849.0 L1532.4,1861.6 L1542.4,1855.7 L1552.7,1856.3 L1562.3,1844.0 L1572.6,1839.6 L1582.9,1836.7 L1591.7,1835.2 L1602.0,1821.1 L1612.3,1823.4 L1621.6,1819.9 L1631.9,1808.8 L1641.6,1802.9 L1651.9,1786.8 L1662.2,1800.5 L1671.8,1776.5 L1681.8,1757.4 L1691.5,1741.8 L1701.8,1743.3 L1712.1,1728.0 L1721.7,1720.7 L1731.7,1707.5 L1741.4,1697.2 L1751.7,1688.4 L1761.4,1673.7 L1771.6,1677.3 L1781.0,1659.1 L1791.3,1647.9 L1801.6,1654.7 L1811.9,1648.8 L1822.1,1650.3 L1831.8,1656.1 L1840.4,1663.5 L1850.7,1642.9 L1861.0,1635.6 L1871.2,1636.5 L1880.6,1633.5 L1890.9,1613.6 L1900.6,1595.9 L1910.9,1582.7 L1921.1,1559.3 L1930.5,1522.6 L1940.8,1516.7 L1944.6,1494.7 L1950.5,1450.4 L1960.8,1422.5 L1969.6,1365.3 L1979.8,1324.2 L1988.6,1274.3 L1998.9,1212.6 L2009.2,1195.0 L2029.7,1152.5 L2040.0,1190.6 L2048.8,1203.8 L2060.6,1236.1 L2070.8,1294.8 L2079.6,1353.5 L2085.5,1403.4 L2094.3,1471.0 L2103.1,1518.2 L2110.5,1568.1 L2117.8,1612.1 L2125.1,1662.0 L2132.5,1714.8 L2139.8,1750.1 L2148.6,1782.3 L2158.9,1805.8 L2169.2,1832.3 L2179.4,1846.9 L2189.7,1866.0 L2200.0,1873.3 L2208.8,1876.9 L2219.1,1878.6 L2229.3,1886.6 L2239.6,1884.2 L2249.9,1886.6 L2258.7,1887.4 L2270.4,1892.4 L2279.2,1893.3 L2289.5,1898.3 L2299.2,1899.2 L2308.6,1891.8 L2318.9,1897.4 L2329.2,1899.2 L2338.5,1903.6" stroke="#000" stroke-width="2.9" fill="none" stroke-linejoin="round" stroke-linecap="butt" shape-rendering="crispEdges"/>
<path d="M1999.8,1183.3 L2012.1,1183.3" stroke="#000" stroke-width="2.9" fill="none" stroke-linejoin="round" stroke-linecap="butt" shape-rendering="crispEdges"/>
<path d="M1282.0,1869.2 L1296.7,1862.5 L1304.0,1862.6 L1322.2,1870.4 L1332.8,1864.6 L1343.1,1868.3 L1353.3,1868.5 L1362.7,1862.0 L1373.0,1869.0 L1383.3,1864.4 L1392.7,1865.3 L1402.3,1875.2 L1412.2,1875.5 L1422.2,1875.8 L1432.1,1876.2 L1442.1,1876.5 L1452.0,1876.8 L1462.0,1877.1 L1471.9,1877.5 L1481.9,1877.8 L1491.8,1878.1 L1501.8,1878.4 L1511.7,1878.7 L1521.7,1879.1 L1531.6,1879.4 L1541.6,1879.7 L1551.5,1880.0 L1561.5,1880.3 L1571.4,1880.7 L1581.4,1881.0 L1591.3,1881.3 L1601.3,1881.6 L1611.2,1882.0 L1621.2,1882.3 L1631.1,1882.6 L1641.1,1882.9 L1651.0,1883.2 L1661.0,1883.6 L1670.9,1883.9 L1680.9,1884.2 L1690.8,1884.5 L1700.8,1884.8 L1710.7,1885.2 L1720.7,1885.5 L1730.6,1885.8 L1740.6,1886.1 L1750.5,1886.3 L1760.5,1886.6 L1770.4,1886.8 L1780.4,1886.9 L1790.3,1886.8 L1800.3,1886.6 L1810.2,1886.1 L1820.2,1885.1 L1830.1,1883.5 L1840.1,1881.0 L1850.0,1877.3 L1860.0,1872.0 L1869.9,1864.4 L1879.8,1854.0 L1889.8,1840.0 L1899.7,1821.6 L1909.7,1798.0 L1919.6,1768.2 L1929.6,1731.8 L1939.5,1688.4 L1949.5,1638.2 L1959.4,1581.9 L1969.4,1521.2 L1979.3,1458.7 L1989.3,1397.6 L1999.2,1341.9 L2009.2,1295.8 L2019.1,1263.4 L2029.1,1247.4 L2039.0,1249.4 L2049.0,1269.4 L2058.9,1305.4 L2068.9,1354.2 L2078.8,1411.9 L2088.8,1474.2 L2098.7,1537.3 L2108.7,1597.9 L2118.6,1653.8 L2128.6,1703.4 L2138.5,1746.1 L2148.5,1781.9 L2158.4,1811.0 L2168.4,1834.3 L2178.3,1852.4 L2188.3,1866.3 L2198.2,1876.7 L2208.2,1884.5 L2218.1,1890.1 L2228.1,1894.2 L2238.0,1897.1 L2248.0,1899.2 L2257.9,1900.8 L2267.9,1901.9 L2277.8,1902.7 L2287.8,1903.3 L2297.7,1903.9 L2307.7,1904.3 L2317.6,1904.7 L2327.6,1905.1 L2337.5,1905.4 L2338.5,1904.8 L2348.8,1890.6 L2358.5,1894.3 L2376.1,1895.7" stroke="#ff0000" stroke-width="2.9" fill="none" stroke-linejoin="round" stroke-linecap="butt" shape-rendering="crispEdges"/>
<path d="M1282.0,1868.9 L1296.7,1862.2 L1304.0,1862.2 L1322.2,1869.8 L1332.8,1864.0 L1343.1,1867.5 L1353.3,1867.5 L1362.7,1860.7 L1373.0,1867.5 L1383.3,1862.5 L1392.7,1863.1 L1402.3,1872.5 L1412.2,1872.3 L1422.2,1872.0 L1432.1,1871.5 L1442.1,1871.0 L1452.0,1870.3 L1462.0,1869.4 L1471.9,1868.3 L1481.9,1867.0 L1491.8,1865.5 L1501.8,1863.7 L1511.7,1861.7 L1521.7,1859.3 L1531.6,1856.5 L1541.6,1853.4 L1551.5,1849.9 L1561.5,1845.9 L1571.4,1841.5 L1581.4,1836.6 L1591.3,1831.2 L1601.3,1825.3 L1611.2,1818.8 L1621.2,1811.8 L1631.1,1804.3 L1641.1,1796.2 L1651.0,1787.7 L1661.0,1778.7 L1670.9,1769.3 L1680.9,1759.6 L1690.8,1749.6 L1700.8,1739.4 L1710.7,1729.2 L1720.7,1719.0 L1730.6,1709.0 L1740.6,1699.3 L1750.5,1690.0 L1760.5,1681.4 L1770.4,1673.4 L1780.4,1666.4 L1790.3,1660.3 L1800.3,1655.3 L1810.2,1651.5 L1820.2,1649.0 L1830.1,1647.9 L1840.1,1648.1 L1850.0,1649.6 L1860.0,1652.5 L1869.9,1656.7 L1879.8,1662.1 L1889.8,1668.7 L1899.7,1676.2 L1909.7,1684.7 L1919.6,1693.9 L1929.6,1703.7 L1939.5,1713.9 L1949.5,1724.5 L1959.4,1735.4 L1969.4,1746.2 L1979.3,1757.1 L1989.3,1767.7 L1999.2,1778.2 L2009.2,1788.2 L2019.1,1798.0 L2029.1,1807.2 L2039.0,1816.0 L2049.0,1824.3 L2058.9,1832.0 L2068.9,1839.2 L2078.8,1845.9 L2088.8,1852.0 L2098.7,1857.7 L2108.7,1862.8 L2118.6,1867.5 L2128.6,1871.8 L2138.5,1875.6 L2148.5,1879.0 L2158.4,1882.1 L2168.4,1884.9 L2178.3,1887.4 L2188.3,1889.6 L2198.2,1891.5 L2208.2,1893.3 L2218.1,1894.8 L2228.1,1896.2 L2238.0,1897.5 L2248.0,1898.6 L2257.9,1899.5 L2267.9,1900.4 L2277.8,1901.2 L2287.8,1901.9 L2297.7,1902.6 L2307.7,1903.2 L2317.6,1903.8 L2327.6,1904.3 L2337.5,1904.8 L2338.5,1904.2 L2348.8,1890.1 L2358.5,1893.9 L2376.1,1895.4" stroke="#0000ff" stroke-width="2.9" fill="none" stroke-linejoin="round" stroke-linecap="butt" shape-rendering="crispEdges"/>
<path d="M1282.0,1869.2 L1296.7,1862.5 L1304.0,1862.6 L1322.2,1870.4 L1332.8,1864.6 L1343.1,1868.3 L1353.3,1868.5 L1362.7,1862.0 L1373.0,1869.0 L1383.3,1864.4 L1392.7,1865.3 L1402.3,1875.2 L1412.2,1875.5 L1422.2,1875.8 L1432.1,1876.2 L1442.1,1876.5 L1452.0,1876.8 L1462.0,1877.1 L1471.9,1877.5 L1481.9,1877.8 L1491.8,1878.1 L1501.8,1878.4 L1511.7,1878.7 L1521.7,1879.1 L1531.6,1879.4 L1541.6,1879.7 L1551.5,1880.0 L1561.5,1880.3 L1571.4,1880.7 L1581.4,1881.0 L1591.3,1881.3 L1601.3,1881.6 L1611.2,1882.0 L1621.2,1882.3 L1631.1,1882.6 L1641.1,1882.9 L1651.0,1883.2 L1661.0,1883.6 L1670.9,1883.9 L1680.9,1884.2 L1690.8,1884.5 L1700.8,1884.9 L1710.7,1885.2 L1720.7,1885.5 L1730.6,1885.8 L1740.6,1886.1 L1750.5,1886.5 L1760.5,1886.8 L1770.4,1887.1 L1780.4,1887.4 L1790.3,1887.8 L1800.3,1888.1 L1810.2,1888.4 L1820.2,1888.7 L1830.1,1889.0 L1840.1,1889.4 L1850.0,1889.7 L1860.0,1890.0 L1869.9,1890.3 L1879.8,1890.6 L1889.8,1891.0 L1899.7,1891.3 L1909.7,1891.6 L1919.6,1891.9 L1929.6,1892.3 L1939.5,1892.6 L1949.5,1892.9 L1959.4,1893.2 L1969.4,1893.5 L1979.3,1893.9 L1989.3,1894.2 L1999.2,1894.5 L2009.2,1894.8 L2019.1,1895.2 L2029.1,1895.5 L2039.0,1895.8 L2049.0,1896.1 L2058.9,1896.4 L2068.9,1896.8 L2078.8,1897.1 L2088.8,1897.4 L2098.7,1897.7 L2108.7,1898.0 L2118.6,1898.4 L2128.6,1898.7 L2138.5,1899.0 L2148.5,1899.3 L2158.4,1899.7 L2168.4,1900.0 L2178.3,1900.3 L2188.3,1900.6 L2198.2,1900.9 L2208.2,1901.3 L2218.1,1901.6 L2228.1,1901.9 L2238.0,1902.2 L2248.0,1902.6 L2257.9,1902.9 L2267.9,1903.2 L2277.8,1903.5 L2287.8,1903.8 L2297.7,1904.2 L2307.7,1904.5 L2317.6,1904.8 L2327.6,1905.1 L2337.5,1905.5 L2338.5,1904.9 L2348.8,1890.6 L2358.5,1894.3 L2376.1,1895.7" stroke="#008080" stroke-width="2.9" fill="none" stroke-linejoin="round" stroke-linecap="butt" shape-rendering="crispEdges"/>
<path d="M1282.0,1868.9 L1296.7,1862.2 L1304.0,1862.2 L1322.2,1869.8 L1332.8,1864.0 L1343.1,1867.5 L1353.3,1867.5 L1362.7,1860.7 L1373.0,1867.5 L1383.3,1862.5 L1392.7,1863.1 L1402.3,1872.5 L1412.2,1872.3 L1422.2,1872.0 L1432.1,1871.5 L1442.1,1871.0 L1452.0,1870.3 L1462.0,1869.4 L1471.9,1868.3 L1481.9,1867.0 L1491.8,1865.5 L1501.8,1863.7 L1511.7,1861.7 L1521.7,1859.3 L1531.6,1856.5 L1541.6,1853.4 L1551.5,1849.9 L1561.5,1845.9 L1571.4,1841.5 L1581.4,1836.6 L1591.3,1831.2 L1601.3,1825.3 L1611.2,1818.8 L1621.2,1811.8 L1631.1,1804.3 L1641.1,1796.2 L1651.0,1787.7 L1661.0,1778.7 L1670.9,1769.3 L1680.9,1759.6 L1690.8,1749.6 L1700.8,1739.4 L1710.7,1729.2 L1720.7,1719.0 L1730.6,1709.0 L1740.6,1699.2 L1750.5,1689.9 L1760.5,1681.2 L1770.4,1673.1 L1780.4,1665.8 L1790.3,1659.4 L1800.3,1653.8 L1810.2,1649.2 L1820.2,1645.4 L1830.1,1642.4 L1840.1,1639.7 L1850.0,1637.3 L1860.0,1634.5 L1869.9,1630.8 L1879.8,1625.5 L1889.8,1617.7 L1899.7,1606.6 L1909.7,1591.0 L1919.6,1570.2 L1929.6,1543.3 L1939.5,1509.8 L1949.5,1469.8 L1959.4,1424.1 L1969.4,1373.9 L1979.3,1321.9 L1989.3,1271.1 L1999.2,1225.5 L2009.2,1189.3 L2019.1,1166.2 L2029.1,1159.1 L2039.0,1169.6 L2049.0,1197.5 L2058.9,1240.9 L2068.9,1296.6 L2078.8,1360.7 L2088.8,1428.8 L2098.7,1497.2 L2108.7,1562.7 L2118.6,1622.9 L2128.6,1676.5 L2138.5,1722.7 L2148.5,1761.6 L2158.4,1793.5 L2168.4,1819.2 L2178.3,1839.5 L2188.3,1855.2 L2198.2,1867.3 L2208.2,1876.5 L2218.1,1883.4 L2228.1,1888.5 L2238.0,1892.4 L2248.0,1895.2 L2257.9,1897.4 L2267.9,1899.1 L2277.8,1900.4 L2287.8,1901.4 L2297.7,1902.3 L2307.7,1903.0 L2317.6,1903.7 L2327.6,1904.2 L2337.5,1904.7 L2338.5,1904.2 L2348.8,1890.1 L2358.5,1893.9 L2376.1,1895.4" stroke="#ff00ff" stroke-width="2.9" fill="none" stroke-linejoin="round" stroke-linecap="butt" shape-rendering="crispEdges"/>
</g>
<rect x="1279.80" y="1076.10" width="1099.40" height="4.40"/>
<rect x="1279.80" y="2019.00" width="1099.40" height="4.70"/>
<rect x="1279.80" y="1076.10" width="4.70" height="947.60"/>
<rect x="2374.80" y="1076.10" width="4.40" height="947.60"/>
<rect x="1379.50" y="2002.60" width="4.00" height="17.40" rx="1"/>
<rect x="1578.50" y="2002.60" width="4.00" height="17.40" rx="1"/>
<rect x="1777.50" y="2002.60" width="4.00" height="17.40" rx="1"/>
<rect x="1976.40" y="2002.60" width="4.00" height="17.40" rx="1"/>
<rect x="2176.00" y="2002.60" width="4.00" height="17.40" rx="1"/>
<rect x="1478.70" y="2011.40" width="4.00" height="8.60" rx="1"/>
<rect x="1678.30" y="2011.40" width="4.00" height="8.60" rx="1"/>
<rect x="1877.20" y="2011.40" width="4.00" height="8.60" rx="1"/>
<rect x="2075.60" y="2011.40" width="4.00" height="8.60" rx="1"/>
<rect x="2274.90" y="2011.40" width="4.00" height="8.60" rx="1"/>
<text transform="translate(1339.07,2083.81) scale(0.5100,0.5873)" font-size="100" font-weight="bold" stroke="#000" stroke-width="1.1" stroke-linejoin="round">536</text>
<text transform="translate(1538.70,2083.81) scale(0.4991,0.5873)" font-size="100" font-weight="bold" stroke="#000" stroke-width="1.1" stroke-linejoin="round">534</text>
<text transform="translate(1737.07,2083.81) scale(0.5100,0.5873)" font-size="100" font-weight="bold" stroke="#000" stroke-width="1.1" stroke-linejoin="round">532</text>
<text transform="translate(1936.07,2083.81) scale(0.5100,0.5873)" font-size="100" font-weight="bold" stroke="#000" stroke-width="1.1" stroke-linejoin="round">530</text>
<text transform="translate(2135.88,2083.81) scale(0.5068,0.5873)" font-size="100" font-weight="bold" stroke="#000" stroke-width="1.1" stroke-linejoin="round">528</text>
<text transform="translate(2334.27,2083.81) scale(0.5100,0.5873)" font-size="100" font-weight="bold" stroke="#000" stroke-width="1.1" stroke-linejoin="round">526</text>
<text transform="translate(1599.47,2130.00) scale(0.5076,0.5481)" font-size="100" font-weight="bold" stroke="#000" stroke-width="1.1" stroke-linejoin="round" x="0.00 72.22 100.00 161.08 222.17 249.95 311.04 372.12 399.90 466.60 527.69 583.30 622.22 683.30 738.92 766.70 800.00 855.62 922.32" y="0">Binding Energy (eV)</text>
<text transform="translate(1255.90,1753.43) rotate(-90) scale(0.5084,0.5472)" font-size="100" font-weight="bold" stroke="#000" stroke-width="1.1" stroke-linejoin="round" x="0.00 30.53 97.66 134.25 195.37 262.49 323.61 354.14 390.73 451.85 482.38 518.98 580.09 610.62 677.75 708.28" y="0">Intensity (a.u.)</text>
<text stroke-linejoin="round"><tspan x="1359.42" y="1235.01" font-size="124.29" textLength="29.14" lengthAdjust="spacingAndGlyphs" font-weight="bold">(</tspan><tspan x="1397.10" y="1237.35" font-size="124.19" textLength="66.74" lengthAdjust="spacingAndGlyphs" stroke="#000" stroke-width="0.50">d</tspan><tspan x="1473.58" y="1235.01" font-size="124.29" textLength="29.02" lengthAdjust="spacingAndGlyphs" font-weight="bold">)</tspan></text>
<text transform="translate(1567.49,1630.65) scale(0.5236,0.5507)" font-size="100">48.5 %</text>
</svg>
</body>
</html>
